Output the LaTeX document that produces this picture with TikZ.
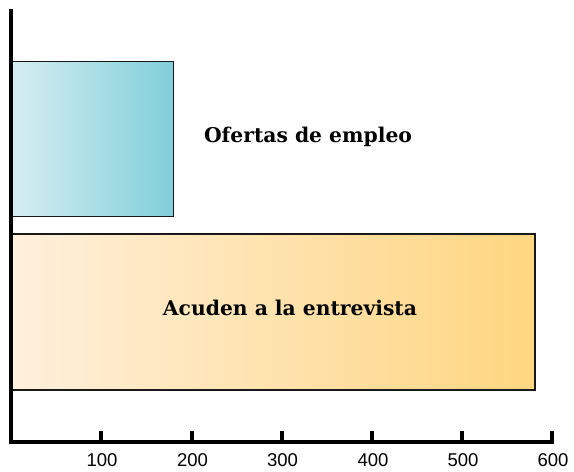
\documentclass[tikz,border=0pt]{standalone}
\usepackage{fontspec}
\setmainfont{DejaVu Serif}
\newfontfamily\ticksfont{Liberation Sans}
\definecolor{blueL}{HTML}{D6EEF2}
\definecolor{blueR}{HTML}{80CFD9}
\definecolor{orangeL}{HTML}{FFF0DC}
\definecolor{orangeR}{HTML}{FFD680}
\tikzset{
  barbox/.style={draw=black!90, line width=1.6pt},
  axisline/.style={line width=4pt, line cap=rect},
  ticklab/.style={font=\ticksfont\fontsize{18.5}{18.5}\selectfont, inner sep=0pt},
  barlab/.style={font=\bfseries\fontsize{20.3}{22}\selectfont, inner sep=0pt}
}
\begin{document}
\begin{tikzpicture}[x=1pt,y=-1pt]
\useasboundingbox (0,0) rectangle (574,472);
% bars
\shade[left color=blueL, right color=blueR] (11,61.5) rectangle (173.5,216.5);
\draw[barbox] (11,61.5) rectangle (173.5,216.5);
\shade[left color=orangeL, right color=orangeR] (11,234) rectangle (535,390);
\draw[barbox] (11,234) rectangle (535,390);
% axes
\coordinate (top) at (10.5,11);
\coordinate (orig) at (10.5,441.5);
\coordinate (xend) at (552,441.5);
\draw[axisline] (top) -- (orig) -- (xend);
\foreach \v/\x in {100/101,200/191.5,300/281.5,400/372,500/462,600/552}{
  \draw[line width=4pt] (\x,441.5) -- (\x,431);
  \node[ticklab] (t\v) at (\x+1,460) {\v};
}
\node[barlab] (l1) at (308,137) {Ofertas de empleo};
\node[barlab] (l2) at (290,308) {Acuden a la entrevista};
\end{tikzpicture}
\end{document}
